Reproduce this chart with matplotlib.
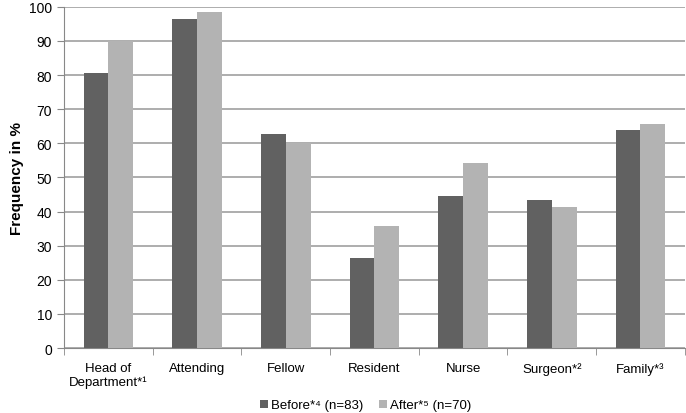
import matplotlib
matplotlib.use("Agg")
import matplotlib.pyplot as plt
import numpy as np

plt.rcParams['font.family'] = ['Liberation Sans', 'DejaVu Sans']

categories = ["Head of\nDepartment*\u00b9", "Attending", "Fellow", "Resident",
              "Nurse", "Surgeon*\u00b2", "Family*\u00b3"]
before = [80.7, 96.4, 62.7, 26.5, 44.6, 43.4, 63.9]
after = [90.0, 98.6, 60.0, 35.7, 54.3, 41.4, 65.7]
series_labels = ["Before*\u2074 (n=83)", "After*\u2075 (n=70)"]

fig = plt.figure(figsize=(6.86, 4.14), dpi=100)
ax = fig.add_axes([0.0933, 0.157, 0.905, 0.824])

x = np.arange(len(categories))
width = 0.28
ax.bar(x - width / 2, before, width, color="#616161", label=series_labels[0], zorder=3)
ax.bar(x + width / 2, after, width, color="#b3b3b3", label=series_labels[1], zorder=3)

ax.set_xlim(-0.5, len(categories) - 0.5)
ax.set_ylim(0, 100)
ax.set_yticks(np.arange(0, 101, 10))
ax.yaxis.grid(True, color="#a0a0a0", linewidth=1.2, zorder=0)

ax.set_xticks(x)
ax.set_xticklabels(categories, fontsize=9.5)
ax.set_xticks(np.arange(-0.5, len(categories), 1), minor=True)
ax.tick_params(axis="x", which="major", length=0, pad=10)
ax.tick_params(axis="x", which="minor", length=5, color="#888888")
ax.tick_params(axis="y", labelsize=10, length=5, color="#888888")

for side in ["top", "right"]:
    ax.spines[side].set_visible(False)
for side in ["left", "bottom"]:
    ax.spines[side].set_color("#888888")

ax.set_ylabel("Frequency in %", fontsize=11, fontweight="bold")

fig.legend(loc="lower center", bbox_to_anchor=(0.533, -0.025), ncol=2, frameon=False,
           fontsize=9.5, handlelength=0.6, handleheight=0.6, handletextpad=0.2,
           columnspacing=1.2)

plt.savefig("out.png", dpi=100)
plt.close()
